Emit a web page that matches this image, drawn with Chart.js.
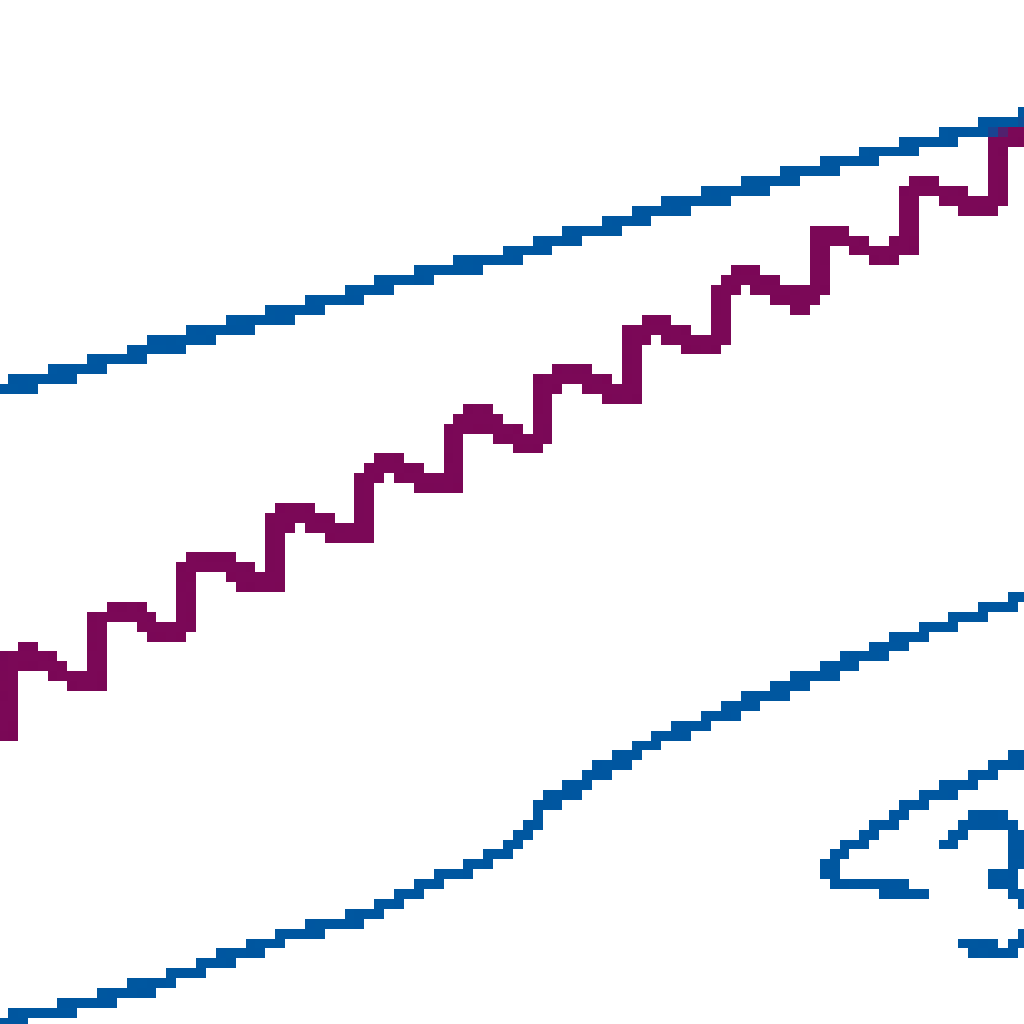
<!DOCTYPE html>
<html>
<head>
<meta charset="utf-8">
<script src="https://cdn.jsdelivr.net/npm/chart.js@4/dist/chart.umd.min.js"></script>
<style>
  html, body { margin: 0; padding: 0; background: #fff; overflow: hidden; }
  #wrap {
    position: absolute;
    left: -2.5px;
    top: -2.5px;
    width: 104px;
    height: 104px;
    transform: scale(9.9);
    transform-origin: 0 0;
  }
  #c {
    image-rendering: pixelated;
    filter: url(#crisp);
  }
</style>
</head>
<body>
<svg width="0" height="0" style="position:absolute">
  <filter id="crisp" color-interpolation-filters="sRGB">
    <feComponentTransfer>
      <feFuncA type="discrete" tableValues="0 0 0 0 1 1 1 1 1 1"/>
    </feComponentTransfer>
  </filter>
</svg>
<div id="wrap"><canvas id="c" width="104" height="104"></canvas></div>
<script>
// values (picture pixels, y grows downward)

// upper trend line
const upperX = [0, 36, 77, 111, 146, 186, 225, 265, 305, 340, 375, 409, 444, 488, 522, 557, 596, 631, 661, 700, 740, 780, 815, 860, 895, 935, 975, 1010, 1030];
const upperY = [390, 380, 369, 359, 349, 339, 329, 319, 309, 299, 289, 279, 269, 260, 250, 240, 230, 220, 210, 200, 190, 180, 170, 160, 150, 140, 130, 120, 116];

// seasonal curve
const seasonX = [0, 7, 9, 22, 45, 60, 80, 96, 98, 115, 135, 150, 168, 184, 187, 206, 224, 240, 258, 275, 277, 296, 316, 335, 355, 364, 366, 388, 403, 428, 452, 455, 479, 493, 508, 523, 541, 544, 568, 583, 600, 622, 631, 634, 652, 666, 680, 705, 720, 722, 741, 761, 786, 796, 806, 815, 817, 840, 862, 882, 898, 906, 908, 930, 950, 975, 992, 995, 1012, 1030];
const seasonY = [730, 724, 664, 654, 662, 672, 682, 680, 620, 612, 614, 624, 632, 626, 566, 562, 564, 574, 582, 578, 516, 512, 522, 532, 534, 530, 476, 460, 472, 482, 480, 432, 412, 423, 433, 442, 436, 386, 374, 376, 388, 394, 390, 336, 324, 328, 338, 343, 340, 296, 275, 283, 293, 306, 294, 290, 232, 236, 246, 256, 250, 242, 192, 186, 196, 206, 204, 142, 134, 130];

// lower trend line
const lowerX = [0, 25, 72, 111, 151, 181, 206, 235, 265, 290, 320, 360, 384, 404, 424, 449, 474, 498, 508, 523, 533, 538, 548, 558, 578, 588, 608, 627, 642, 666, 690, 716, 736, 761, 786, 811, 836, 860, 885, 905, 935, 965, 994, 1020, 1030];
const lowerY = [1020, 1015, 1005, 995, 985, 975, 965, 955, 945, 935, 926, 916, 906, 896, 886, 876, 866, 856, 846, 836, 826, 811, 801, 796, 786, 776, 766, 757, 747, 737, 727, 717, 707, 697, 687, 677, 667, 657, 647, 637, 627, 617, 607, 598, 595];

// hook in the lower right
const hookX = [1030, 1012, 995, 980, 960, 930, 912, 895, 880, 865, 851, 840, 830, 826, 838, 860, 890, 910, 925];
const hookY = [756, 762, 767, 776, 786, 796, 806, 816, 826, 836, 846, 856, 864, 872, 880, 885, 887, 892, 896];

// "3"-like mark, upper and lower strokes
const markTopX = [945, 958, 975, 1003, 1016, 1018, 1017, 995, 1010, 1024, 1030];
const markTopY = [846, 830, 821, 821, 830, 850, 870, 880, 886, 895, 912];
const markLowX = [964, 974, 1000, 1018, 1030];
const markLowY = [934, 948, 951, 946, 930];

const blue = "#0057a0";
const purple = "#7b0857";

function pts(xs, ys) {
  return xs.map((x, i) => ({ x: x, y: ys[i] }));
}

function lineSet(xs, ys, color, width) {
  return {
    data: pts(xs, ys),
    borderColor: color,
    borderWidth: width,
    pointRadius: 0,
    tension: 0,
    fill: false,
    borderJoinStyle: "round",
    clip: false,
  };
}

const ctx = document.getElementById("c").getContext("2d");

new Chart(ctx, {
  type: "line",
  data: {
    datasets: [
      lineSet(upperX, upperY, blue, 1.3),
      lineSet(lowerX, lowerY, blue, 1.3),
      lineSet(hookX, hookY, blue, 1.3),
      lineSet(markTopX, markTopY, blue, 1.3),
      lineSet(markLowX, markLowY, blue, 1.3),
      lineSet(seasonX, seasonY, purple, 2),
    ],
  },
  options: {
    responsive: false,
    devicePixelRatio: 1,
    animation: false,
    layout: { padding: 0 },
    plugins: { legend: { display: false }, tooltip: { enabled: false } },
    scales: {
      x: { type: "linear", display: false, min: -2.5, max: 1027.1 },
      y: { type: "linear", display: false, reverse: true, min: -2.5, max: 1027.1 },
    },
  },
});
</script>
</body>
</html>
